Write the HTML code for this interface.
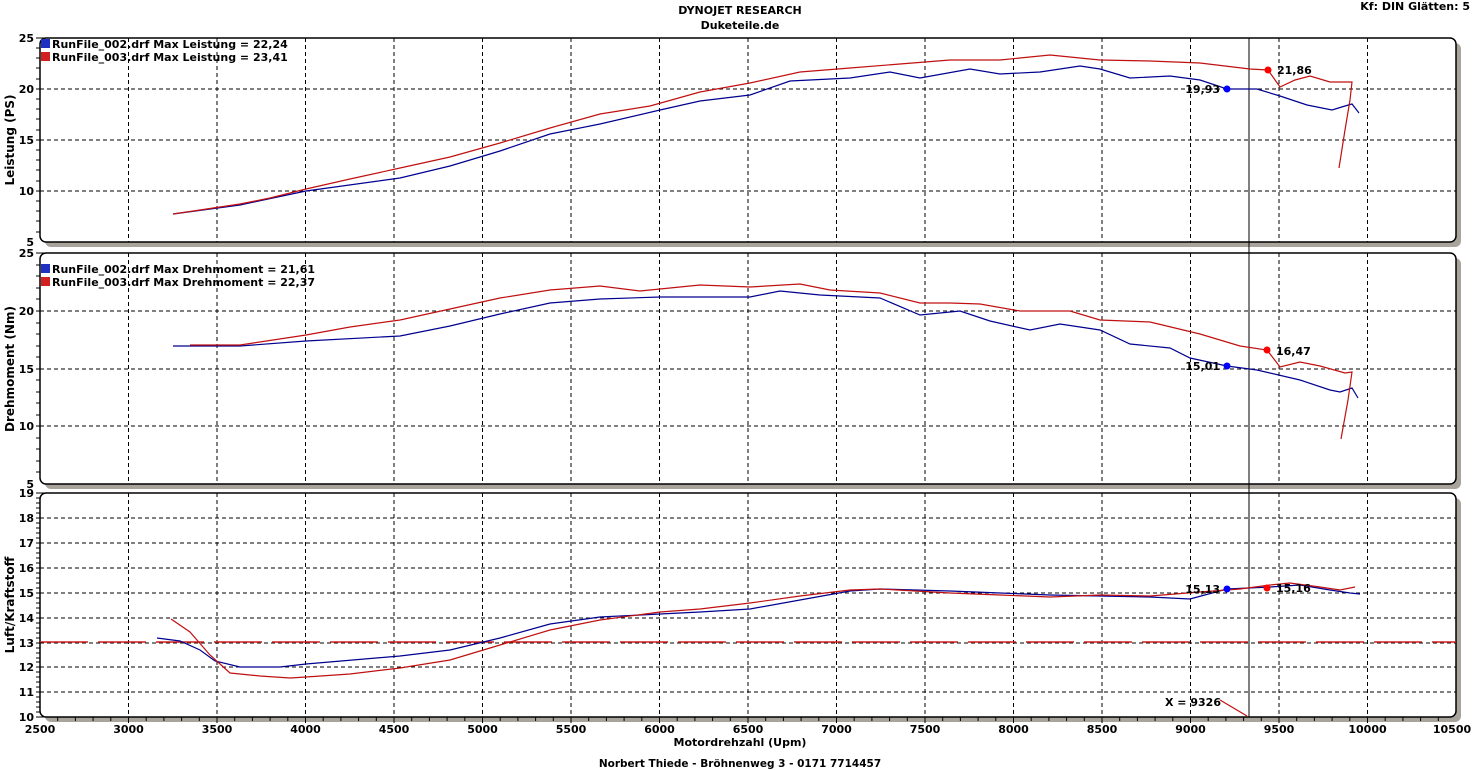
<!DOCTYPE html>
<html><head><meta charset="utf-8"><style>
html,body{margin:0;padding:0;background:#fff;}
svg{display:block;font-family:"DejaVu Sans","Liberation Sans",sans-serif;font-weight:bold;font-size:11px;}
</style></head><body>
<svg width="1481" height="770" viewBox="0 0 1481 770" xmlns="http://www.w3.org/2000/svg">
<text x="740" y="14" text-anchor="middle">DYNOJET RESEARCH</text>
<text x="740" y="29" text-anchor="middle">Duketeile.de</text>
<text x="1470" y="10" text-anchor="end">Kf: DIN  Glätten: 5</text>
<text x="740" y="746" text-anchor="middle">Motordrehzahl (Upm)</text>
<text x="740" y="767" text-anchor="middle" font-size="10.5">Norbert Thiede - Bröhnenweg 3 - 0171 7714457</text>

<!-- shadows -->
<g fill="#a8a49c">
<rect x="45" y="43" width="1416" height="204" rx="6"/>
<rect x="45" y="258" width="1416" height="231" rx="6"/>
<rect x="45" y="498" width="1416" height="224" rx="6"/>
</g>
<g fill="#fff" stroke="#000" stroke-width="1.5">
<rect x="40" y="38" width="1416" height="204" rx="6"/>
<rect x="40" y="253" width="1416" height="231" rx="6"/>
<rect x="40" y="493" width="1416" height="224" rx="6"/>
</g>

<!-- vertical grid -->
<g stroke="#000" stroke-dasharray="4,3" stroke-width="1">
<path d="M128.5 38V242M217 38V242M305.5 38V242M394 38V242M482.5 38V242M571 38V242M659.5 38V242M748 38V242M836.5 38V242M925 38V242M1013.5 38V242M1102 38V242M1190.5 38V242M1279 38V242M1367.5 38V242"/>
<path d="M128.5 253V484M217 253V484M305.5 253V484M394 253V484M482.5 253V484M571 253V484M659.5 253V484M748 253V484M836.5 253V484M925 253V484M1013.5 253V484M1102 253V484M1190.5 253V484M1279 253V484M1367.5 253V484"/>
<path d="M128.5 493V717M217 493V717M305.5 493V717M394 493V717M482.5 493V717M571 493V717M659.5 493V717M748 493V717M836.5 493V717M925 493V717M1013.5 493V717M1102 493V717M1190.5 493V717M1279 493V717M1367.5 493V717"/>
<!-- horizontal grid -->
<path d="M40 89H1456M40 140H1456M40 191H1456"/>
<path d="M40 311H1456M40 369H1456M40 426H1456"/>
<path d="M40 518H1456M40 543H1456M40 568H1456M40 593H1456M40 618H1456M40 643H1456M40 667H1456M40 692H1456"/>
</g>

<!-- y ticks -->
<g stroke="#000" stroke-width="1">
<path d="M36 38H44M36 48H40M36 58H40M36 68H40M36 79H40M36 89H44M36 99H40M36 109H40M36 119H40M36 130H40M36 140H44M36 150H40M36 160H40M36 170H40M36 181H40M36 191H44M36 201H40M36 211H40M36 221H40M36 232H40"/>
<path d="M36 253H44M36 265H40M36 276H40M36 288H40M36 299H40M36 311H44M36 323H40M36 334H40M36 346H40M36 357H40M36 369H44M36 380H40M36 392H40M36 403H40M36 415H40M36 426H44M36 438H40M36 449H40M36 461H40M36 472H40"/>
</g>
<g stroke="#000" stroke-width="1" id="t3"></g>

<!-- y labels -->
<g text-anchor="end">
<text x="34" y="42">25</text><text x="34" y="93">20</text><text x="34" y="144">15</text><text x="34" y="195">10</text><text x="34" y="246">5</text>
<text x="34" y="257">25</text><text x="34" y="315">20</text><text x="34" y="373">15</text><text x="34" y="430">10</text><text x="34" y="488">5</text>
<text x="34" y="497">19</text><text x="34" y="522">18</text><text x="34" y="547">17</text><text x="34" y="572">16</text><text x="34" y="597">15</text><text x="34" y="622">14</text><text x="34" y="647">13</text><text x="34" y="671">12</text><text x="34" y="696">11</text><text x="34" y="721">10</text>
</g>
<g text-anchor="middle">
<text x="40" y="733">2500</text><text x="128.5" y="733">3000</text><text x="217" y="733">3500</text><text x="305.5" y="733">4000</text><text x="394" y="733">4500</text><text x="482.5" y="733">5000</text><text x="571" y="733">5500</text><text x="659.5" y="733">6000</text><text x="748" y="733">6500</text><text x="836.5" y="733">7000</text><text x="925" y="733">7500</text><text x="1013.5" y="733">8000</text><text x="1102" y="733">8500</text><text x="1190.5" y="733">9000</text><text x="1279" y="733">9500</text><text x="1367.5" y="733">10000</text><text x="1452" y="733">10500</text>
</g>
<text transform="translate(14,140) rotate(-90)" text-anchor="middle" font-size="12">Leistung (PS)</text>
<text transform="translate(14,369) rotate(-90)" text-anchor="middle" font-size="12">Drehmoment (Nm)</text>
<text transform="translate(14,605) rotate(-90)" text-anchor="middle" font-size="12">Luft/Kraftstoff</text>

<!-- legends -->
<rect x="41" y="39" width="9" height="9" fill="#2030c0"/><rect x="41" y="52" width="9" height="9" fill="#d02020"/>
<text x="52" y="48">RunFile_002.drf Max Leistung = 22,24</text>
<text x="52" y="61">RunFile_003.drf Max Leistung = 23,41</text>
<rect x="41" y="264" width="9" height="9" fill="#2030c0"/><rect x="41" y="277" width="9" height="9" fill="#d02020"/>
<text x="52" y="273">RunFile_002.drf Max Drehmoment = 21,61</text>
<text x="52" y="286">RunFile_003.drf Max Drehmoment = 22,37</text>

<!-- cursor -->
<path d="M1249 38V717" stroke="#000" stroke-width="1"/>
<path d="M40 642H1456" stroke="#d02020" stroke-width="1.5" stroke-dasharray="48,10"/>

<g fill="none" stroke-width="1.2">
<polyline stroke="#000090" points="173,214 240,205 306,191 400,178 450,166 500,151 550,134 600,124 660,110 700,101 750,95 790,81 850,78 890,72 920,78 970,69 1000,74 1040,72 1080,66 1100,69 1130,78 1170,76 1200,80 1227,89 1257,89 1280,96 1307,105 1332,110 1345,106 1352,104 1359,113"/>
<polyline stroke="#c01010" points="173,214 200,210 240,204 270,198 306,189 350,179 400,168 450,157 500,143 550,128 600,114 650,106 700,92 750,83 800,72 850,68 900,64 950,60 1000,60 1050,55 1100,60 1150,61 1200,63 1250,69 1268,70 1280,87 1295,80 1310,76 1330,82 1352,82 1350,100 1345,130 1339,168"/>
<polyline stroke="#000090" points="173,346 240,346 306,341 400,336 450,326 500,314 550,303 600,299 660,297 700,297 750,297 780,291 820,295 880,298 920,315 960,311 990,321 1030,330 1060,324 1100,330 1130,344 1170,348 1190,358 1227,366 1257,370 1300,380 1330,390 1340,392 1352,388 1358,398"/>
<polyline stroke="#c01010" points="190,345 240,345 306,335 350,327 400,320 450,309 500,298 550,290 600,286 640,291 700,285 750,287 800,284 830,290 880,293 920,303 950,303 980,304 1020,311 1070,311 1100,320 1150,322 1200,334 1240,346 1267,350 1280,367 1300,362 1320,366 1345,373 1352,372 1348,400 1341,439"/>
<polyline stroke="#000090" points="157,638 180,641 200,650 215,661 240,667 280,667 306,664 400,656 450,650 500,638 550,624 600,617 660,614 700,612 750,609 800,600 850,591 880,589 950,591 1000,593 1050,595 1100,596 1150,597 1190,599 1227,589 1270,587 1300,585 1330,590 1350,593 1360,594"/>
<polyline stroke="#c01010" points="171,619 190,632 210,655 230,673 260,676 290,678 306,677 350,674 400,668 450,660 500,645 550,630 600,620 660,612 700,609 750,603 800,596 850,590 880,589 950,593 1000,595 1050,597 1100,595 1150,596 1200,592 1240,589 1270,585 1290,583 1320,587 1340,590 1355,587"/>
<path stroke="#c01010" d="M1220 700L1247 716"/>
</g>
<text x="1165" y="706">X = 9326</text>

<g>
<circle cx="1227" cy="89" r="3.5" fill="#0000ff"/><circle cx="1268" cy="70" r="3.5" fill="#ff0000"/>
<circle cx="1227" cy="366" r="3.5" fill="#0000ff"/><circle cx="1267" cy="350" r="3.5" fill="#ff0000"/>
<circle cx="1227" cy="589" r="3.5" fill="#0000ff"/><circle cx="1267" cy="588" r="3.5" fill="#ff0000"/>
</g>
<g text-anchor="end"><text x="1220" y="93">19,93</text><text x="1220" y="370">15,01</text><text x="1220" y="593">15,13</text></g>
<text x="1277" y="74">21,86</text><text x="1276" y="355">16,47</text><text x="1276" y="592">15,16</text>

<!-- bottom panel ticks -->
<g stroke="#000" stroke-width="1">
<path d="M36 493H44M36 518H44M36 543H44M36 568H44M36 593H44M36 618H44M36 643H44M36 667H44M36 692H44M36 717H44M36 498H40M36 503H40M36 508H40M36 513H40M36 523H40M36 528H40M36 533H40M36 538H40M36 548H40M36 553H40M36 558H40M36 563H40M36 573H40M36 578H40M36 583H40M36 588H40M36 598H40M36 603H40M36 608H40M36 613H40M36 623H40M36 628H40M36 633H40M36 638H40M36 648H40M36 653H40M36 658H40M36 662H40M36 672H40M36 677H40M36 682H40M36 687H40M36 697H40M36 702H40M36 707H40M36 712H40"/>
<path d="M57.7 717V721M75.4 717V721M93.1 717V721M110.8 717V721M146.2 717V721M163.9 717V721M181.6 717V721M199.3 717V721M234.7 717V721M252.4 717V721M270.1 717V721M287.8 717V721M323.2 717V721M340.9 717V721M358.6 717V721M376.3 717V721M411.7 717V721M429.4 717V721M447.1 717V721M464.8 717V721M500.2 717V721M517.9 717V721M535.6 717V721M553.3 717V721M588.7 717V721M606.4 717V721M624.1 717V721M641.8 717V721M677.2 717V721M694.9 717V721M712.6 717V721M730.3 717V721M765.7 717V721M783.4 717V721M801.1 717V721M818.8 717V721M854.2 717V721M871.9 717V721M889.6 717V721M907.3 717V721M942.7 717V721M960.4 717V721M978.1 717V721M995.8 717V721M1031.2 717V721M1048.9 717V721M1066.6 717V721M1084.3 717V721M1119.7 717V721M1137.4 717V721M1155.1 717V721M1172.8 717V721M1208.2 717V721M1225.9 717V721M1243.6 717V721M1261.3 717V721M1296.7 717V721M1314.4 717V721M1332.1 717V721M1349.8 717V721M1385.2 717V721M1402.9 717V721M1420.6 717V721M1438.3 717V721"/>
<path d="M128.5 717V723M217 717V723M305.5 717V723M394 717V723M482.5 717V723M571 717V723M659.5 717V723M748 717V723M836.5 717V723M925 717V723M1013.5 717V723M1102 717V723M1190.5 717V723M1279 717V723M1367.5 717V723"/>
</g>
</svg>
</body></html>
